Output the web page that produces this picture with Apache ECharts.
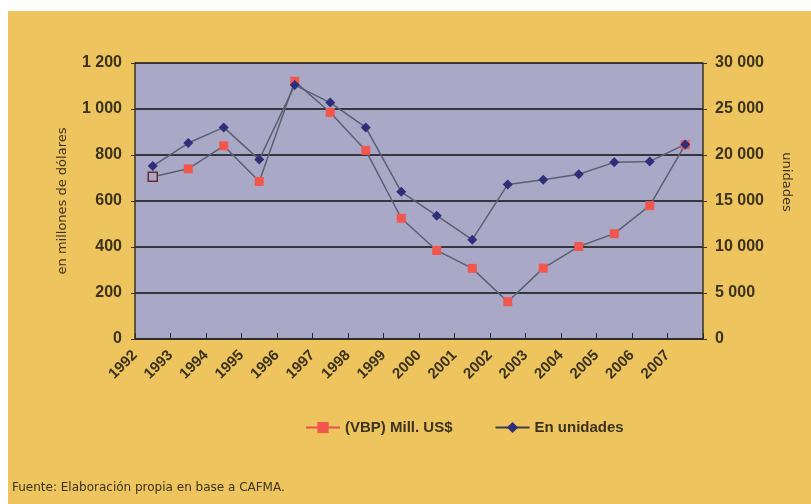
<!DOCTYPE html>
<html>
<head>
<meta charset="utf-8">
<script src="https://cdn.jsdelivr.net/npm/echarts@6/dist/echarts.min.js"></script>
<style>
html, body { margin: 0; padding: 0; background: #fff; }
#chart { width: 811px; height: 504px; }
</style>
</head>
<body>
<div id="chart"></div>
<script>
// años (categorías)
const years = ['1992', '1993', '1994', '1995', '1996', '1997', '1998', '1999',
    '2000', '2001', '2002', '2003', '2004', '2005', '2006', '2007'];
// VBP en millones de US$
const vbpValues = [705, 740, 840, 685, 1120, 985, 820, 525, 385, 307, 162, 308, 402, 458, 580, 845];
// producción en unidades
const unitValues = [18800, 21300, 23000, 19500, 27600, 25700, 23000, 16000,
    13400, 10800, 16800, 17300, 17900, 19200, 19300, 21150];
const leftTicks = { min: 0, max: 1200, interval: 200 };
const rightTicks = { min: 0, max: 30000, interval: 5000 };

const textColor = '#3b3220';
const numFont = 'Liberation Sans, Arial, sans-serif';
const wideFont = 'DejaVu Sans, sans-serif';
const fmt = v => String(v).replace(/\B(?=(\d{3})+(?!\d))/g, ' ');

const chart = echarts.init(document.getElementById('chart'));
chart.setOption({
    animation: false,
    backgroundColor: '#ffffff',
    textStyle: { fontFamily: numFont },
    graphic: [
        {
            type: 'rect', left: 8, top: 11, z: -10,
            shape: { width: 803, height: 493 },
            style: { fill: '#EDC45E' }
        },
        {
            type: 'text', left: 12, top: 482,
            style: {
                text: 'Fuente: Elaboración propia en base a CAFMA.',
                fill: textColor, fontSize: 12, fontFamily: wideFont
            }
        },
        {
            type: 'text', x: 786, y: 182, rotation: -Math.PI / 2,
            style: {
                text: 'unidades', fill: textColor, fontSize: 13, fontFamily: wideFont,
                align: 'center', verticalAlign: 'middle'
            }
        }
    ],
    grid: {
        left: 135, right: 108, top: 63, bottom: 165,
        show: true, backgroundColor: '#A9A8C6', borderWidth: 0
    },
    legend: {
        bottom: 64,
        left: 300,
        itemGap: 42,
        itemWidth: 34,
        textStyle: { color: textColor, fontSize: 15, fontWeight: 'bold', fontFamily: numFont },
        data: [
            { name: '(VBP) Mill. US$', lineStyle: { color: '#E8504A' } },
            { name: 'En unidades', lineStyle: { color: '#3a3a48' } }
        ]
    },
    xAxis: [
        {
            type: 'category',
            data: years,
            boundaryGap: true,
            axisLine: { lineStyle: { color: '#2a2a2a', width: 1.5 } },
            axisTick: { show: true, inside: true, length: 6, lineStyle: { color: '#2a2a2a' } },
            axisLabel: { show: false },
            splitLine: { show: false }
        },
        {
            // etiquetas en las marcas, como en el original
            type: 'category',
            position: 'bottom',
            data: years.concat(['']),
            boundaryGap: false,
            axisLine: { show: false },
            axisTick: { show: false },
            axisLabel: {
                interval: 0, rotate: 45, margin: 14,
                color: textColor, fontSize: 15, fontWeight: 'bold',
                fontFamily: numFont
            }
        }
    ],
    yAxis: [
        {
            type: 'value',
            min: leftTicks.min, max: leftTicks.max, interval: leftTicks.interval,
            name: 'en millones de dólares',
            nameLocation: 'middle',
            nameGap: 66,
            nameTextStyle: { color: textColor, fontSize: 13, fontFamily: wideFont },
            axisLine: { show: true, lineStyle: { color: '#3a3320', width: 1.5 } },
            axisTick: { show: true, length: 4, lineStyle: { color: '#3a3320' } },
            axisLabel: {
                color: textColor, fontSize: 16, fontWeight: 'bold', margin: 13,
                fontFamily: numFont,
                formatter: fmt
            },
            splitLine: { show: true, lineStyle: { color: '#111', width: 1.5 } }
        },
        {
            type: 'value',
            min: rightTicks.min, max: rightTicks.max, interval: rightTicks.interval,
            axisLine: { show: true, lineStyle: { color: '#3a3320', width: 1.5 } },
            axisTick: { show: true, length: 4, lineStyle: { color: '#3a3320' } },
            axisLabel: {
                color: textColor, fontSize: 16, fontWeight: 'bold', margin: 12,
                fontFamily: numFont,
                formatter: fmt
            },
            splitLine: { show: false }
        }
    ],
    series: [
        {
            name: '(VBP) Mill. US$',
            type: 'line',
            xAxisIndex: 0,
            yAxisIndex: 0,
            data: vbpValues.map((v, i) => i === 0
                ? { value: v, itemStyle: { color: '#A9A8C6', borderColor: '#6a2a2a', borderWidth: 1.5 } }
                : v),
            symbol: 'rect',
            symbolSize: 9,
            lineStyle: { color: '#596070', width: 1.5 },
            itemStyle: { color: '#F2574E' }
        },
        {
            name: 'En unidades',
            type: 'line',
            xAxisIndex: 0,
            yAxisIndex: 1,
            data: unitValues,
            symbol: 'diamond',
            symbolSize: 10,
            lineStyle: { color: '#596070', width: 1.5 },
            itemStyle: { color: '#2E2E7A' }
        }
    ]
});
</script>
</body>
</html>
